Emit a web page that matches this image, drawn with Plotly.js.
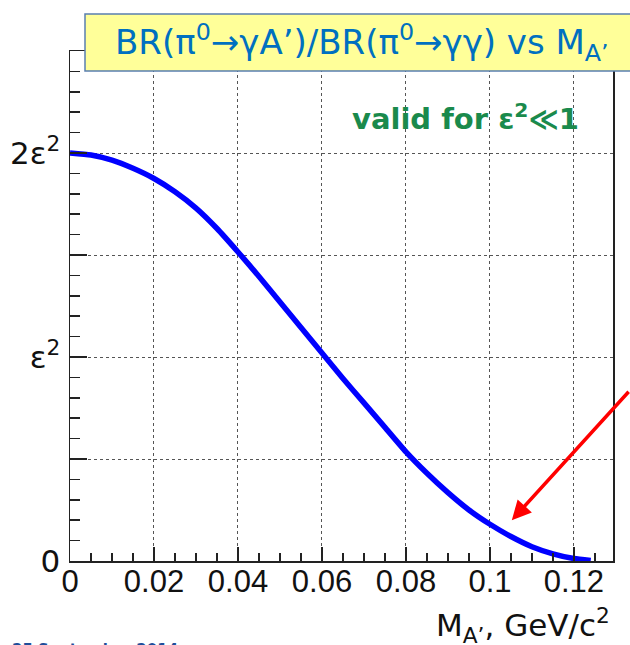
<!DOCTYPE html>
<html>
<head>
<meta charset="utf-8">
<script src="https://cdn.plot.ly/plotly-3.0.1.min.js"></script>
<style>html,body{margin:0;padding:0;background:#fff;}#chart{width:630px;height:645px;}</style>
</head>
<body>
<div id="chart"></div>
<script>
// Dark photon mass M_A' (GeV/c^2)
const massValues = [0, 0.005, 0.01, 0.015, 0.02, 0.025, 0.03, 0.035, 0.04, 0.045, 0.05, 0.055, 0.06, 0.065, 0.07, 0.075, 0.08, 0.085, 0.09, 0.095, 0.1, 0.105, 0.11, 0.115, 0.12, 0.124];
// Branching ratio in units of epsilon^2
const ratioValues = [2.0, 1.99, 1.965, 1.925, 1.875, 1.81, 1.73, 1.63, 1.515, 1.395, 1.27, 1.145, 1.02, 0.895, 0.775, 0.655, 0.535, 0.43, 0.335, 0.25, 0.18, 0.12, 0.07, 0.035, 0.012, 0.003];
const xTickVals = [0, 0.02, 0.04, 0.06, 0.08, 0.1, 0.12];
const xTickText = ['0', '0.02', '0.04', '0.06', '0.08', '0.1', '0.12'];
const xMinorVals = [0.005, 0.01, 0.015, 0.025, 0.03, 0.035, 0.045, 0.05, 0.055, 0.065, 0.07, 0.075, 0.085, 0.09, 0.095, 0.105, 0.11, 0.115, 0.125];
const yTickVals = [0, 0.5, 1, 1.5, 2, 2.5];
const yTickText = ['0', '', 'ε<sup>2</sup>', '', '2ε<sup>2</sup>', ''];
const yMinorVals = [0.1, 0.2, 0.3, 0.4, 0.6, 0.7, 0.8, 0.9, 1.1, 1.2, 1.3, 1.4, 1.6, 1.7, 1.8, 1.9, 2.1, 2.2, 2.3, 2.4];
const arrowTip = {x: 0.1052, y: 0.20};

const xRange = [0, 0.1293];
const yRange = [0, 2.5];

const trace = {
  x: massValues, y: ratioValues, type: 'scatter', mode: 'lines',
  line: {color: '#0000ff', width: 5.5, shape: 'spline', smoothing: 0.5},
  hoverinfo: 'skip'
};

const layout = {
  width: 630, height: 645,
  margin: {l: 70, r: 17, t: 51, b: 84, pad: 0},
  paper_bgcolor: '#ffffff', plot_bgcolor: '#ffffff',
  showlegend: false,
  xaxis: {
    range: xRange, fixedrange: true,
    tickmode: 'array', tickvals: xTickVals, ticktext: xTickText,
    ticks: 'inside', ticklen: 14, tickwidth: 1.6, tickcolor: '#222',
    minor: {tickmode: 'array', tickvals: xMinorVals, ticks: 'inside', ticklen: 8, tickwidth: 1.5, tickcolor: '#222', showgrid: false},
    showline: true, linecolor: '#222', linewidth: 1.5, mirror: true,
    showgrid: true, gridcolor: '#555', griddash: 'dot', gridwidth: 1,
    zeroline: false,
    tickfont: {family: 'Liberation Sans, Arial, sans-serif', size: 31, color: '#111'},
    ticklabelstandoff: -8
  },
  yaxis: {
    range: yRange, fixedrange: true,
    tickmode: 'array', tickvals: yTickVals, ticktext: yTickText,
    ticks: 'inside', ticklen: 17, tickwidth: 1.6, tickcolor: '#222',
    minor: {tickmode: 'array', tickvals: yMinorVals, ticks: 'inside', ticklen: 10, tickwidth: 1.5, tickcolor: '#222', showgrid: false},
    showline: true, linecolor: '#222', linewidth: 1.5, mirror: true,
    showgrid: true, gridcolor: '#555', griddash: 'dot', gridwidth: 1,
    zeroline: false,
    tickfont: {family: 'DejaVu Sans, sans-serif', size: 31, color: '#111'},
    ticklabelstandoff: 2
  },
  shapes: [
    {type: 'rect', xref: 'paper', yref: 'paper', layer: 'above',
     x0: (85 - 70) / 543, x1: (632 - 70) / 543, y0: (645 - 84 - 71) / 510, y1: (645 - 84 - 14) / 510,
     fillcolor: '#ffff99', line: {color: '#5a7fb0', width: 1.5}}
  ],
  annotations: [
    {xref: 'paper', yref: 'paper', x: (362 - 70) / 543, y: (645 - 84 - 42) / 510,
     xanchor: 'center', yanchor: 'middle', showarrow: false,
     text: 'BR(π<sup>0</sup>→γA’)/BR(π<sup>0</sup>→γγ) vs M<sub>A’</sub>',
     font: {family: 'DejaVu Sans, sans-serif', size: 34, color: '#0070c0'}},
    {xref: 'paper', yref: 'paper', x: (465 - 70) / 543, y: (645 - 84 - 117) / 510,
     xanchor: 'center', yanchor: 'middle', showarrow: false,
     text: '<b>valid for ε<sup>2</sup>≪1</b>',
     font: {family: 'DejaVu Sans, sans-serif', size: 29, color: '#1a8a4c'}},
    {xref: 'paper', yref: 'paper', x: (612 - 70) / 543, y: (645 - 84 - 625) / 510,
     xanchor: 'right', yanchor: 'middle', showarrow: false,
     text: 'M<sub>A’</sub>, GeV/c<sup>2</sup>',
     font: {family: 'DejaVu Sans, sans-serif', size: 31, color: '#111'}},
    {xref: 'paper', yref: 'paper', x: (10 - 70) / 543, y: (645 - 84 - 650) / 510,
     xanchor: 'left', yanchor: 'middle', showarrow: false,
     text: '<b>25 September 2014</b>',
     font: {family: 'DejaVu Sans, sans-serif', size: 15, color: '#1f4e9a'}},
    {xref: 'x', yref: 'y', x: arrowTip.x, y: arrowTip.y, axref: 'pixel', ayref: 'pixel',
     ax: 122, ay: -130, showarrow: true, arrowhead: 2, arrowsize: 1.1, arrowwidth: 3.5,
     arrowcolor: '#ff0000', standoff: 0, text: ''}
  ]
};

Plotly.newPlot('chart', [trace], layout, {displayModeBar: false, staticPlot: true});
</script>
</body>
</html>
